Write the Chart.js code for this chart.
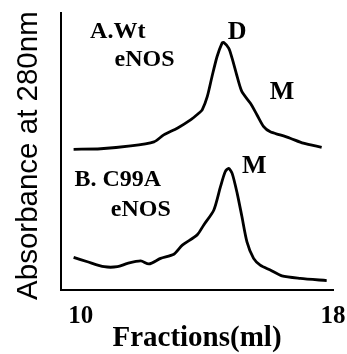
<!DOCTYPE html>
<html>
<head>
<meta charset="utf-8">
<script src="https://cdn.jsdelivr.net/npm/chart.js@4"></script>
<style>
  html, body { margin: 0; padding: 0; background: #fff; }
  #wrap { width: 347px; height: 354px; }
</style>
</head>
<body>
<div id="wrap"><canvas id="c" width="347" height="354"></canvas></div>
<script>
// Fractions (ml) and absorbance (arbitrary units, trace A offset above trace B)
const wtX = [9.77, 10.63, 11.58, 12.32, 12.63, 13.06, 13.48, 13.74, 13.85, 14.01, 14.16, 14.32, 14.48, 14.53, 14.69, 14.80, 14.96, 15.11, 15.38, 15.59, 15.80, 16.01, 16.32, 16.64, 17.06, 17.64];
const wtY = [50.8, 51.0, 52.0, 53.5, 56.0, 58.4, 61.4, 63.8, 65.0, 69.8, 77.0, 84.2, 89.1, 89.4, 87.3, 83.6, 77.0, 71.6, 67.4, 63.2, 59.0, 57.1, 56.0, 54.8, 53.0, 51.5];

const mutX = [9.77, 10.21, 10.74, 11.16, 11.48, 11.90, 12.16, 12.53, 12.95, 13.22, 13.69, 13.90, 14.22, 14.43, 14.58, 14.69, 14.80, 14.96, 15.11, 15.27, 15.48, 15.69, 16.01, 16.38, 16.96, 17.80];
const mutY = [11.8, 10.2, 8.4, 8.4, 9.6, 10.5, 9.4, 11.4, 12.9, 16.2, 19.9, 23.5, 28.9, 37.3, 42.7, 43.9, 42.1, 34.9, 26.5, 17.4, 11.4, 9.0, 7.2, 5.1, 4.2, 3.4];

const xTickValues = [10, 18];

// Annotation texts and their anchor points in data units
const noteText = ["A.Wt", "eNOS", "D", "M", "B. C99A", "eNOS", "M"];
const noteX    = [11.17, 12.02, 14.96, 16.38, 11.17, 11.90, 15.50];
const noteY    = [93.1, 83.0, 93.1, 71.5, 39.7, 28.9, 44.7];
const noteSize = [24, 24, 26, 26, 24, 24, 26];

const toPts = (xs, ys) => xs.map((x, i) => ({x: x, y: ys[i]}));

const notesPlugin = {
  id: 'notes',
  afterDatasetsDraw(chart) {
    const ctx = chart.ctx;
    const xs = chart.scales.x, ys = chart.scales.y;
    ctx.save();
    ctx.fillStyle = '#000';
    ctx.textAlign = 'center';
    ctx.textBaseline = 'middle';
    noteText.forEach((t, i) => {
      ctx.font = 'bold ' + noteSize[i] + 'px "Liberation Serif", "Times New Roman", serif';
      ctx.fillText(t, xs.getPixelForValue(noteX[i]), ys.getPixelForValue(noteY[i]));
    });
    ctx.restore();
  }
};

new Chart(document.getElementById('c'), {
  type: 'line',
  data: {
    datasets: [
      { data: toPts(wtX, wtY), borderColor: '#000', borderWidth: 2.8, pointRadius: 0, tension: 0.25, fill: false },
      { data: toPts(mutX, mutY), borderColor: '#000', borderWidth: 2.8, pointRadius: 0, tension: 0.25, fill: false }
    ]
  },
  options: {
    responsive: false,
    animation: false,
    events: [],
    layout: { padding: { left: 0, top: 13, right: 14, bottom: 0 } },
    plugins: { legend: { display: false }, tooltip: { enabled: false } },
    scales: {
      x: {
        type: 'linear',
        min: 9.37,
        max: 18,
        afterBuildTicks: (s) => { s.ticks = xTickValues.map(v => ({value: v})); },
        afterFit: (s) => { s.height = 64; s.paddingLeft = 0; s.paddingRight = 0; },
        grid: { display: false, drawTicks: false },
        border: { display: true, color: '#000', width: 2 },
        ticks: {
          color: '#000',
          padding: 14.5,
          maxRotation: 0,
          font: { family: '"Liberation Serif", "Times New Roman", serif', size: 25, weight: 'bold', lineHeight: 1 }
        },
        title: {
          display: true,
          text: 'Fractions(ml)',
          color: '#000',
          padding: { top: 0, bottom: 1 },
          font: { family: '"Liberation Serif", "Times New Roman", serif', size: 29, weight: 'bold', lineHeight: 1 }
        }
      },
      y: {
        min: 0,
        max: 100,
        afterFit: (s) => { s.width = 61; s.paddingTop = 0; s.paddingBottom = 0; },
        grid: { display: false, drawTicks: false },
        border: { display: true, color: '#000', width: 2 },
        ticks: { display: false },
        title: {
          display: true,
          text: 'Absorbance at 280nm ',
          color: '#000',
          padding: { top: 14, bottom: 0 },
          font: { family: '"Liberation Sans", Arial, sans-serif', size: 29.5, weight: 'normal', lineHeight: 1 }
        }
      }
    }
  },
  plugins: [notesPlugin]
});
</script>
</body>
</html>
